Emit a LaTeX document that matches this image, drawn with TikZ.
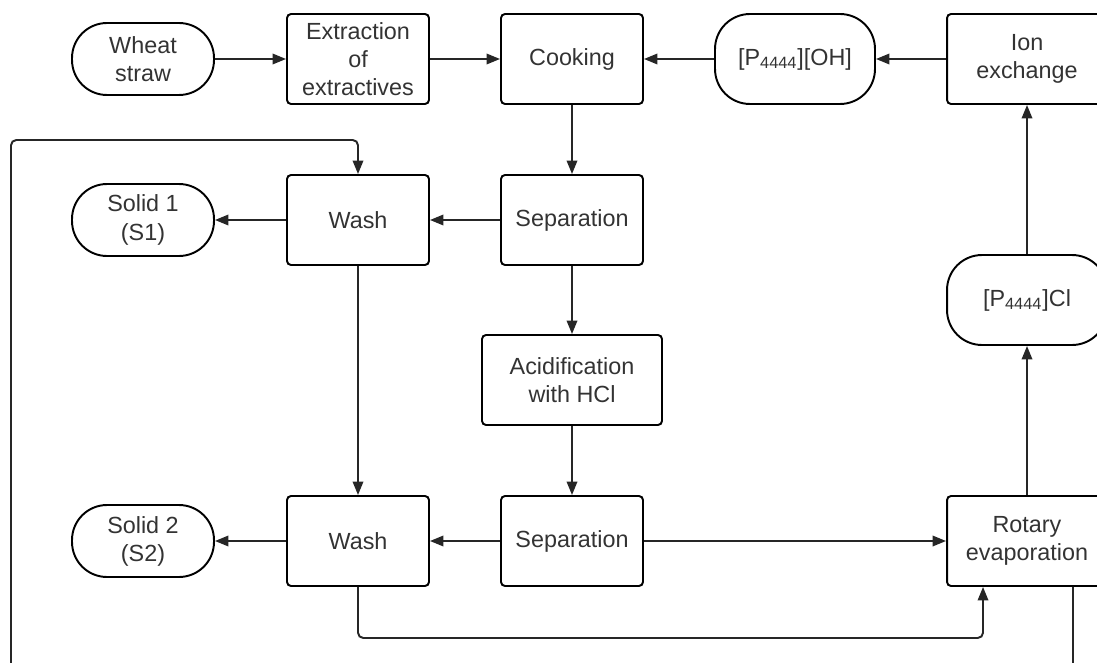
\documentclass[tikz,border=0pt]{standalone}
\usepackage{fontspec}
\setmainfont{Liberation Sans}
\usepackage{xcolor}
\usetikzlibrary{arrows.meta}
\definecolor{inkgray}{HTML}{333333}

\begin{document}
\begin{tikzpicture}[x=0.02cm, y=-0.02cm,
    every node/.style={text=inkgray, font=\fontsize{13.3}{16}\selectfont, align=center},
    procbox/.style={draw, line width=1.1pt, rounded corners=0.08cm, minimum width=2.84cm, minimum height=1.8cm, inner sep=1pt},
    termbox/.style={draw, line width=1.1pt, rounded corners=0.7cm, minimum width=2.84cm, minimum height=1.44cm, inner sep=1pt},
    flow/.style={draw=black!85, line width=1.1pt, -{Triangle[length=0.27cm, width=0.21cm]}}]
    \useasboundingbox (0,0) rectangle (1097,662);
    \clip (0,0) rectangle (1097,662);

    % Top row
    \node[termbox] (wheat) at (143,59) {Wheat\\straw};
    \node[procbox] (extract) at (358,59) {Extraction\\of\\extractives};
    \node[procbox] (cook) at (572,59) {Cooking};
    \node[termbox, minimum width=3.2cm, minimum height=1.8cm] (oh) at (795,59) {[P\textsubscript{4444}][OH]};
    \node[procbox, minimum width=3.2cm] (ionex) at (1027,59) {Ion\\exchange};

    % Second row
    \node[termbox] (solidA) at (143,220) {Solid 1\\(S1)};
    \node[procbox] (washA) at (358,220) {Wash};
    \node[procbox] (sepA) at (572,220) {Separation};

    % Acidification and chloride
    \node[procbox, minimum width=3.6cm] (acid) at (572,380) {Acidification\\with HCl};
    \node[termbox, minimum width=3.2cm, minimum height=1.8cm] (cl) at (1027,300) {[P\textsubscript{4444}]Cl};

    % Bottom row
    \node[termbox] (solidB) at (143,541) {Solid 2\\(S2)};
    \node[procbox] (washB) at (358,541) {Wash};
    \node[procbox] (sepB) at (572,541) {Separation};
    \node[procbox, minimum width=3.2cm] (rotary) at (1027,541) {Rotary\\evaporation};

    % Loop points
    \coordinate (lowloop) at (0,638);
    \coordinate (recyc) at (11,700);
    \coordinate (toploop) at (11,140);

    % Main stream
    \draw[flow] (wheat) -- (extract);
    \draw[flow] (extract) -- (cook);
    \draw[flow] (ionex) -- (oh);
    \draw[flow] (oh) -- (cook);
    \draw[flow] (cook) -- (sepA);
    \draw[flow] (sepA) -- (washA);
    \draw[flow] (washA) -- (solidA);
    \draw[flow] (sepA) -- (acid);
    \draw[flow] (acid) -- (sepB);
    \draw[flow] (washA) -- (washB);
    \draw[flow] (sepB) -- (washB);
    \draw[flow] (washB) -- (solidB);
    \draw[flow] (sepB) -- (rotary);
    \draw[flow] (rotary) -- (cl);
    \draw[flow] (cl) -- (ionex);

    % Wash liquor to evaporation
    \draw[flow, rounded corners=3pt] (washB.south) -- (washB.south |- lowloop) -| ([xshift=-0.88cm]rotary.south);

    % Recycle to first wash
    \draw[flow, rounded corners=3pt] ([xshift=0.92cm]rotary.south) |- (recyc) -- (toploop) -| (washA.north);
\end{tikzpicture}
\end{document}
